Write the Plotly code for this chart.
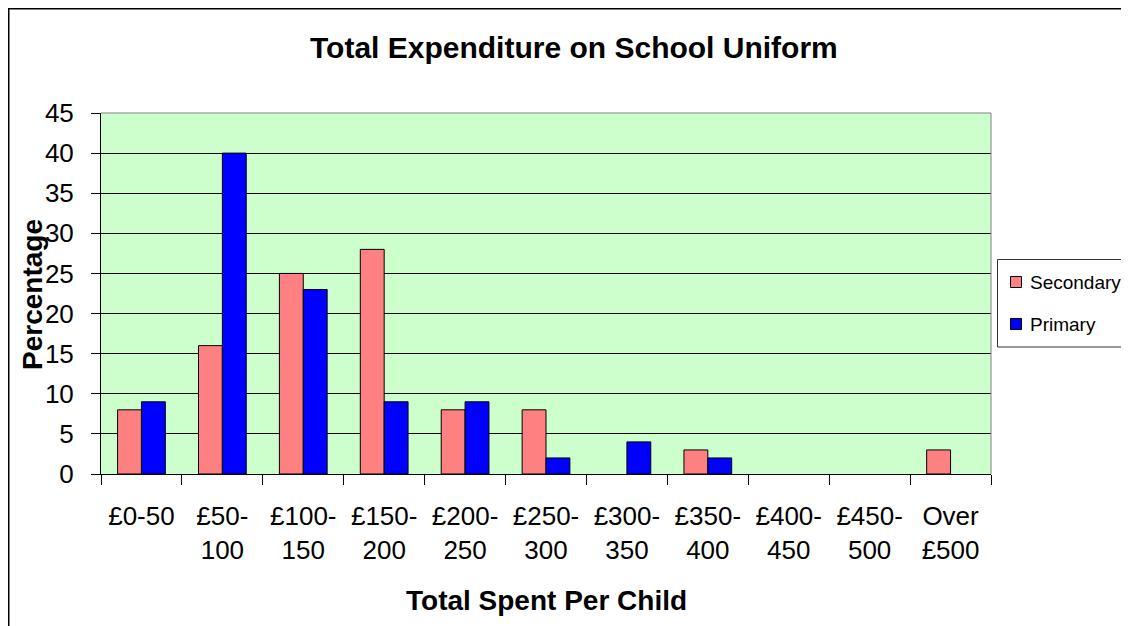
import plotly.graph_objects as go

categories = ["£0-50", "£50-<br>100", "£100-<br>150", "£150-<br>200", "£200-<br>250",
              "£250-<br>300", "£300-<br>350", "£350-<br>400", "£400-<br>450",
              "£450-<br>500", "Over<br>£500"]
secondary = [8, 16, 25, 28, 8, 8, 0, 3, 0, 0, 3]
primary = [9, 40, 23, 9, 9, 2, 4, 2, 0, 0, 0]
series_names = ["Secondary", "Primary"]
series_colors = ["#FF8080", "#0000FF"]

# page body has an 8px margin: figure coordinates = screen coordinates - 8
OFF = 8
W, H = 1129 - OFF, 626 - OFF
L, R, T, B = 101 - OFF, 991 - OFF, 113 - OFF, 474 - OFF
PW, PH = R - L, B - T


def px(x):
    return (x - OFF - L) / PW


def py(y):
    return (B - (y - OFF)) / PH


FONT = "Liberation Sans, Arial, sans-serif"

fig = go.Figure()
for name, vals, col in zip(series_names, [secondary, primary], series_colors):
    fig.add_trace(go.Bar(x=categories, y=vals, name=name,
                         marker=dict(color=col,
                                     line=dict(color="black",
                                               width=[1 if v else 0 for v in vals]))))

shapes = [
    # plot-area top and right edges (gray)
    dict(type="line", xref="paper", yref="paper", x0=0, x1=1, y0=1, y1=1,
         line=dict(color="#808080", width=1)),
    dict(type="line", xref="paper", yref="paper", x0=1, x1=1, y0=0, y1=1,
         line=dict(color="#808080", width=1)),
    # outer chart border (only top/left visible)
    dict(type="rect", xref="paper", yref="paper", x0=px(8.5), x1=px(1145),
         y0=py(645), y1=py(8.5), line=dict(color="black", width=2)),
    # legend box
    dict(type="rect", xref="paper", yref="paper", x0=px(997.5), x1=px(1127.5),
         y0=py(347), y1=py(259.5), line=dict(color="#333333", width=1),
         fillcolor="white", layer="above"),
]
annotations = [
    dict(text="<b>Total Expenditure on School Uniform</b>", xref="paper", yref="paper",
         x=px(574), y=py(48), xanchor="center", yanchor="middle", showarrow=False,
         font=dict(size=30, family=FONT)),
    dict(text="<b>Total Spent Per Child</b>", xref="paper", yref="paper",
         x=px(546), y=py(600), xanchor="center", yanchor="middle", showarrow=False,
         font=dict(size=28, family=FONT)),
    dict(text="<b>Percentage</b>", xref="paper", yref="paper", textangle=-90,
         x=px(32), y=py(295), xanchor="center", yanchor="middle", showarrow=False,
         font=dict(size=28, family=FONT)),
]
# legend entries
for i, (name, col) in enumerate(zip(series_names, series_colors)):
    cy = 282 + 42 * i
    shapes.append(dict(type="rect", xref="paper", yref="paper",
                       x0=px(1010.5), x1=px(1021.5), y0=py(cy + 5.5), y1=py(cy - 5.5),
                       fillcolor=col, line=dict(color="black", width=1), layer="above"))
    annotations.append(dict(text=name, xref="paper", yref="paper", x=px(1028), y=py(cy),
                            xanchor="left", yanchor="middle", showarrow=False,
                            font=dict(size=19, family=FONT)))

fig.update_layout(
    width=W, height=H,
    margin=dict(l=L, r=W - R, t=T, b=H - B, autoexpand=False),
    paper_bgcolor="white",
    plot_bgcolor="#CCFFCC",
    barmode="group",
    bargap=0.41,
    bargroupgap=0,
    font=dict(family=FONT, color="black"),
    showlegend=False,
    xaxis=dict(showgrid=False, tickson="boundaries", ticks="outside", ticklen=10,
               tickcolor="black", tickwidth=1, showline=True, linecolor="black",
               linewidth=1, tickfont=dict(size=26, family=FONT),
               ticklabelstandoff=19),
    yaxis=dict(range=[0, 45], dtick=5, showgrid=True, gridcolor="black", gridwidth=1,
               ticks="outside", ticklen=9, tickcolor="black", showline=True,
               linecolor="black", linewidth=1, tickfont=dict(size=26, family=FONT),
               zeroline=False, ticklabelstandoff=12),
    shapes=shapes,
    annotations=annotations,
)

fig.write_html("out.html")
